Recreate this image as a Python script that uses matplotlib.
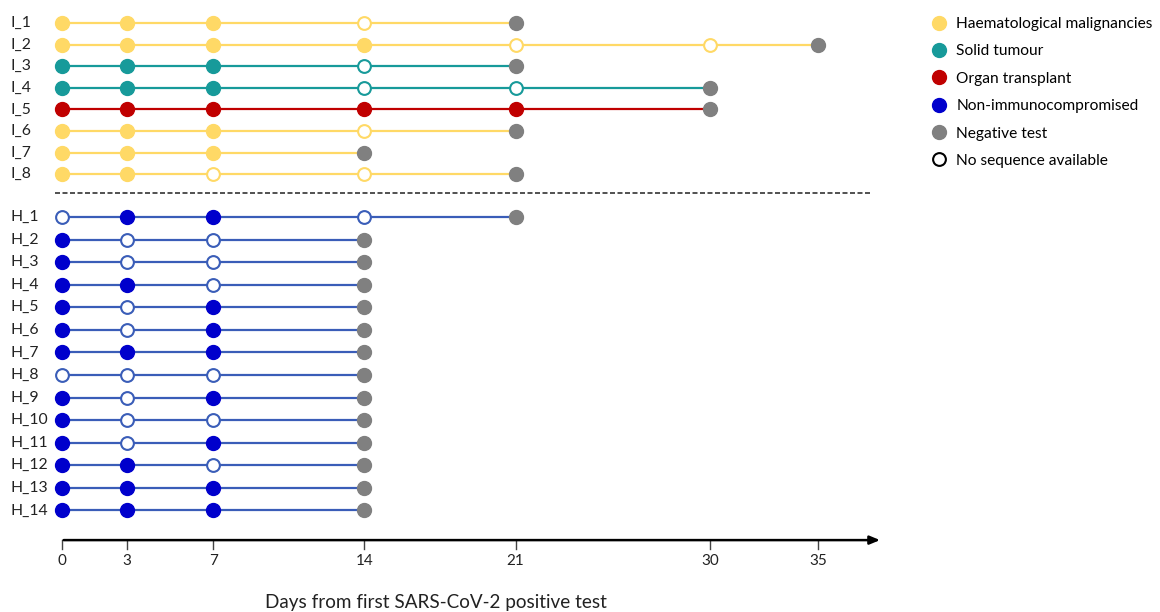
import matplotlib.pyplot as plt
from matplotlib.lines import Line2D
from matplotlib.transforms import blended_transform_factory

plt.rcParams['font.family'] = ['Lato', 'DejaVu Sans']

# Immunocompromised patients (I) and non-immunocompromised (H)
i_labels = ["I_1", "I_2", "I_3", "I_4", "I_5", "I_6", "I_7", "I_8"]
i_groups = ["haem", "haem", "solid", "solid", "organ", "haem", "haem", "haem"]
i_days = [
    [0, 3, 7, 14, 21],
    [0, 3, 7, 14, 21, 30, 35],
    [0, 3, 7, 14, 21],
    [0, 3, 7, 14, 21, 30],
    [0, 3, 7, 14, 21, 30],
    [0, 3, 7, 14, 21],
    [0, 3, 7, 14],
    [0, 3, 7, 14, 21],
]
# f = sequenced sample, o = no sequence available, n = negative test
i_status = ["fffon", "ffffoon", "fffon", "fffoon", "fffffn", "fffon", "fffn", "ffoon"]

h_labels = ["H_%d" % k for k in range(1, 15)]
h_days = [[0, 3, 7, 14, 21]] + [[0, 3, 7, 14]] * 13
h_status = ["offon", "foon", "foon", "ffon", "fofn", "fofn", "fffn",
            "ooon", "fofn", "foon", "fofn", "ffon", "fffn", "fffn"]

day_ticks = [0, 3, 7, 14, 21, 30, 35]

fill_colors = {"haem": "#FFD966", "solid": "#179A9A", "organ": "#C00000", "healthy": "#0000CC"}
line_colors = {"haem": "#FFD966", "solid": "#179A9A", "organ": "#C00000", "healthy": "#3A5DB8"}
neg_color = "#808080"

fig = plt.figure(figsize=(11.6, 6.12), dpi=100)
ax = fig.add_axes([0, 0, 1, 1])
ax.set_xlim(-62 / 21.6, (1160 - 62) / 21.6)
ax.set_ylim((612 - 23) / 21.6, -23 / 21.6)
ax.axis("off")

# vertical positions of the rows
i_pos = [float(k) for k in range(len(i_labels))]
h_pos = [8.98 + 1.045 * k for k in range(len(h_labels))]
sep_y = 7.87
axis_y = 23.94

rows = []
for lab, g, d, s, y in zip(i_labels, i_groups, i_days, i_status, i_pos):
    rows.append((lab, g, d, s, y))
for lab, d, s, y in zip(h_labels, h_days, h_status, h_pos):
    rows.append((lab, "healthy", d, s, y))

lab_tr = blended_transform_factory(fig.transFigure, ax.transData)
ms = 10
for lab, g, d, s, y in rows:
    ax.plot(d, [y] * len(d), color=line_colors[g], lw=1.6, zorder=1)
    for day, st in zip(d, s):
        if st == "f":
            ax.plot(day, y, "o", ms=ms, mfc=fill_colors[g], mec=fill_colors[g], mew=1, zorder=3)
        elif st == "o":
            ax.plot(day, y, "o", ms=ms - 0.8, mfc="white", mec=line_colors[g], mew=1.5, zorder=3)
        else:
            ax.plot(day, y, "o", ms=ms, mfc=neg_color, mec=neg_color, mew=1, zorder=3)
    ax.text(11 / 1160, y, lab, transform=lab_tr, ha="left", va="center", fontsize=11.3, color="#222222")

# separator between the two cohorts
ax.plot([-0.32, 37.5], [sep_y, sep_y], color="#333333", lw=1.2, ls=(0, (3, 1.5)))

# time axis with arrow
ax.annotate("", xy=(38.0, axis_y), xytext=(-0.05, axis_y),
            arrowprops=dict(arrowstyle="-|>,head_length=0.6,head_width=0.25", color="black", lw=1.8))
for t in day_ticks:
    ax.plot([t, t], [axis_y, axis_y + 0.42], color="#444444", lw=1)
    ax.text(t, axis_y + 0.95, str(t), ha="center", va="center", fontsize=11, color="#222222")
ax.text(17.3, 26.85, "Days from first SARS-CoV-2 positive test", ha="center", va="center",
        fontsize=13.6, color="#222222")

handles = [
    Line2D([], [], ls="none", marker="o", ms=10, mfc=fill_colors["haem"], mec=fill_colors["haem"]),
    Line2D([], [], ls="none", marker="o", ms=10, mfc=fill_colors["solid"], mec=fill_colors["solid"]),
    Line2D([], [], ls="none", marker="o", ms=10, mfc=fill_colors["organ"], mec=fill_colors["organ"]),
    Line2D([], [], ls="none", marker="o", ms=10, mfc=fill_colors["healthy"], mec=fill_colors["healthy"]),
    Line2D([], [], ls="none", marker="o", ms=10, mfc=neg_color, mec=neg_color),
    Line2D([], [], ls="none", marker="o", ms=9.2, mfc="white", mec="black", mew=1.5),
]
names = ["Haematological malignancies", "Solid tumour", "Organ transplant",
         "Non-immunocompromised", "Negative test", "No sequence available"]
fig.legend(handles, names, loc="upper left", bbox_to_anchor=(930 / 1160, 1 - 17 / 612),
           frameon=False, fontsize=11.2, handletextpad=0.5, labelspacing=0.86,
           borderaxespad=0, borderpad=0, handlelength=1.2)

fig.savefig("out.png", dpi=100)
